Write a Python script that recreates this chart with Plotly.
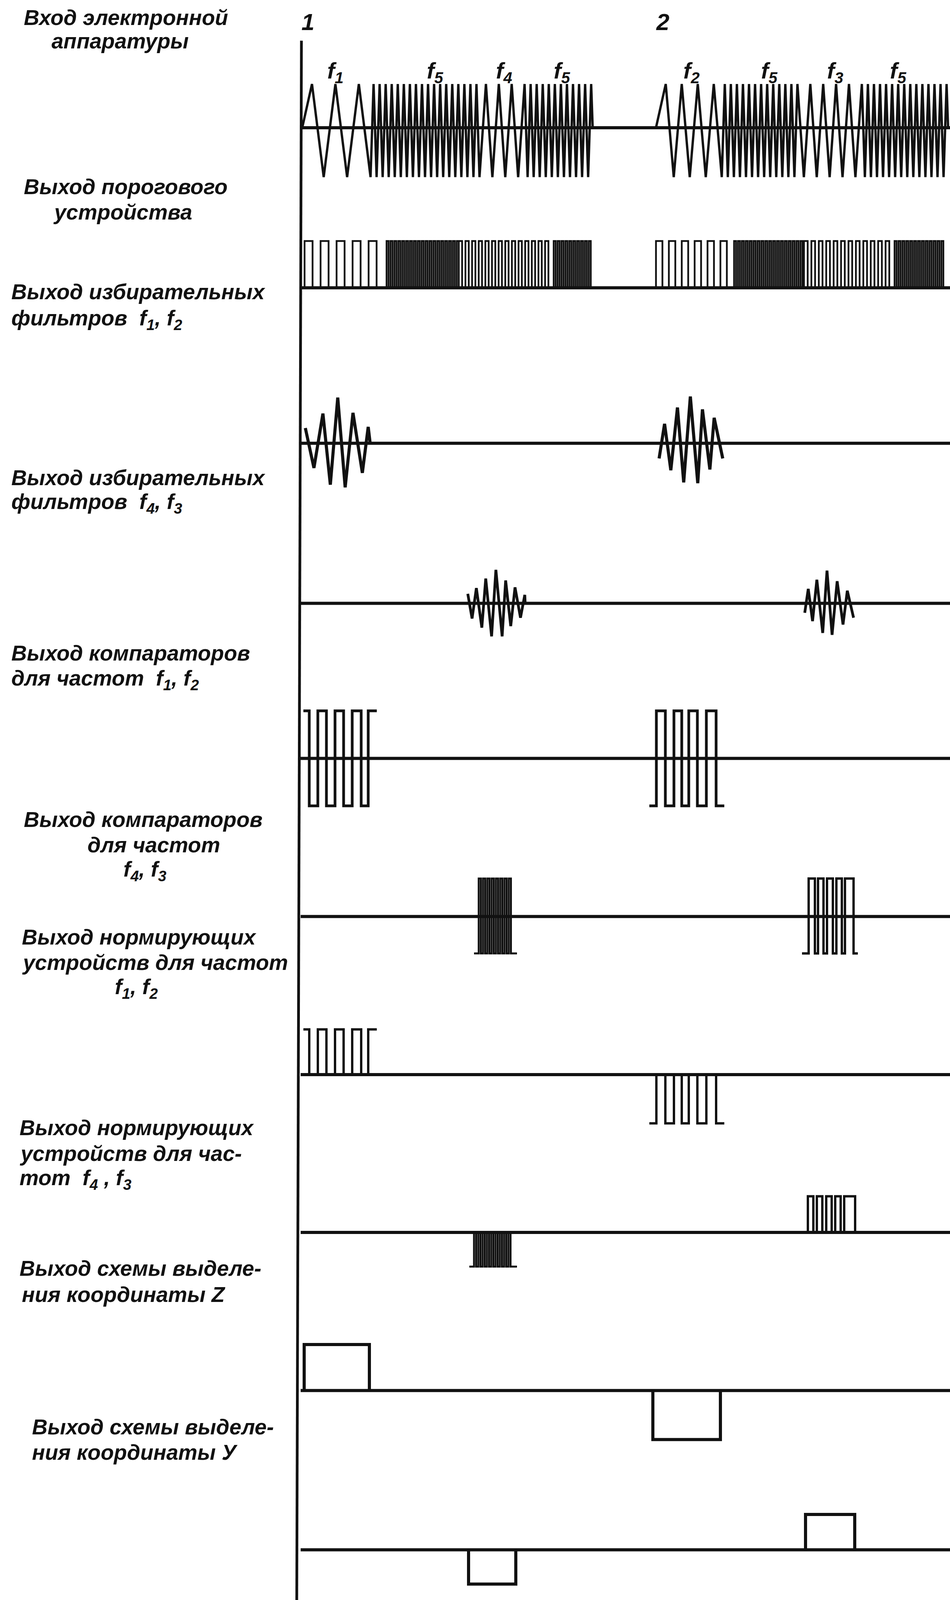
import plotly.graph_objects as go

W, H = 2433, 4209
AXIS_X = 770
AXIS_TOP = 107
LINE_END = 2433
INK = "#111111"

# ---- baselines of the ten traces (vertical position, px from top) ----
baselines = [336, 757, 1166, 1587, 1995, 2411, 2827, 3242, 3658, 4077]

# ---- trace 1: input signal, zig-zag segments (start, end, period) ----
input_burst_1 = [(774, 962, 60), (962, 1228, 15.5), (1228, 1358, 33), (1358, 1520, 15.5)]
input_burst_2 = [(1680, 1862, 41), (1862, 2045, 15.5), (2045, 2212, 33), (2212, 2430, 15.5)]
input_up, input_down = 115, 130

# ---- trace 2: threshold device output, pulse segments (start, end, period) ----
thr_burst_1 = [(780, 990, 41), (990, 1175, 10), (1175, 1418, 17), (1418, 1520, 10)]
thr_burst_2 = [(1680, 1880, 33), (1880, 2059, 10), (2059, 2291, 19), (2291, 2425, 10)]
thr_height = 123

# ---- traces 3,4: selective filter outputs, vertex (x, amplitude) ----
filt12_b1_x = [782, 804, 827, 846, 865, 884, 904, 928, 943, 948]
filt12_b1_a = [40, -65, 78, -109, 120, -116, 80, -78, 43, 0]
filt12_b2_x = [1688, 1702, 1718, 1735, 1751, 1768, 1787, 1799, 1818, 1829, 1851]
filt12_b2_a = [-40, 51, -71, 94, -103, 123, -105, 89, -69, 67, -40]
filt43_b1_x = [1198, 1209, 1220, 1234, 1244, 1259, 1270, 1286, 1295, 1308, 1319, 1333, 1344, 1345]
filt43_b1_a = [25, -40, 40, -64, 65, -87, 88, -87, 60, -60, 42, -38, 22, 0]
filt43_b2_x = [2061, 2070, 2081, 2092, 2107, 2118, 2131, 2144, 2159, 2170, 2186]
filt43_b2_a = [-25, 38, -47, 62, -78, 86, -83, 58, -56, 33, -38]

# ---- traces 5-8: comparator / normaliser outputs, square bursts ----
cmp12_b1_edges = [792, 814, 836, 858, 880, 902, 925, 943]
cmp12_b1 = (777, 965, 1)              # start, end, start level (+1 high / -1 low)
cmp12_b2_edges = [1681, 1704, 1726, 1746, 1764, 1786, 1809, 1834]
cmp12_b2 = (1663, 1855, -1)
cmp12_amp = (125, 125)
cmp43_b1 = (1214, 1226, 1318, 11, 1324, -1)   # start, first edge, last edge, period, end, level
cmp43_b2_edges = [2071, 2087, 2095, 2109, 2118, 2133, 2142, 2156, 2164, 2186]
cmp43_b2 = (2054, 2197, -1)
cmp43_amp = (100, 97)
norm12_b1_amp = (119, 0)
norm12_b2_amp = (0, 128)
norm43_b1 = (1202, 1214, 1314, 11, 1324, -1)
norm43_b1_amp = (0, 90)
norm43_b2_edges = [2069, 2083, 2092, 2106, 2116, 2130, 2139, 2153, 2162, 2190]
norm43_b2 = (2060, 2194, -1)
norm43_b2_amp = (95, 0)

# ---- traces 9,10: coordinate outputs, rectangles (start, end, amplitude) ----
z_rects = [(779, 946, 121), (1672, 1845, -129)]
y_rects = [(1200, 1321, -90), (2063, 2189, 93)]

# ---- text: (text, left x, centre y) ----
label_font = "Liberation Sans"
label_size = 55
labels = [
    ("Вход электронной", 59, 46), ("аппаратуры", 130, 108),
    ("Выход порогового", 59, 491), ("устройства", 134, 558),
    ("Выход избирательных", 27, 768), ("фильтров  f<sub>1</sub>, f<sub>2</sub>", 27, 841),
    ("Выход избирательных", 27, 1257), ("фильтров  f<sub>4</sub>, f<sub>3</sub>", 27, 1324),
    ("Выход компараторов", 27, 1718), ("для частот  f<sub>1</sub>, f<sub>2</sub>", 27, 1788),
    ("Выход компараторов", 59, 2156), ("для частот", 222, 2223), ("f<sub>4</sub>, f<sub>3</sub>", 314, 2290),
    ("Выход нормирующих", 54, 2465), ("устройств для частот", 54, 2532), ("f<sub>1</sub>, f<sub>2</sub>", 292, 2600),
    ("Выход нормирующих", 48, 2967), ("устройств для час-", 48, 3034), ("тот  f<sub>4</sub> , f<sub>3</sub>", 48, 3102),
    ("Выход схемы выделе-", 48, 3337), ("ния координаты Z", 54, 3405),
    ("Выход схемы выделе-", 80, 3754), ("ния координаты У", 80, 3821),
]
marker_labels = [("1", 788, 58), ("2", 1697, 58)]
freq_labels = [("f<sub>1</sub>", 859, 190), ("f<sub>5</sub>", 1114, 190), ("f<sub>4</sub>", 1291, 190),
               ("f<sub>5</sub>", 1439, 190), ("f<sub>2</sub>", 1771, 190), ("f<sub>5</sub>", 1970, 190),
               ("f<sub>3</sub>", 2139, 190), ("f<sub>5</sub>", 2300, 190)]


def zigzag(segments, base, up, down, lead):
    xs = [segments[0][0]]
    ys = [base]
    pos = segments[0][0] + lead - segments[0][2] / 2
    sign = 1
    last_p = segments[0][2]
    for s, e, p in segments:
        while pos + p / 2 <= e:
            pos += p / 2
            xs.append(pos)
            ys.append(base - up if sign > 0 else base + down)
            sign = -sign
        last_p = p
    xs.append(pos + last_p / 4)
    ys.append(base)
    return xs, ys


def pulses(segments, base, h):
    xs, ys = [], []
    for s, e, p in segments:
        t = s
        while t + p / 2 <= e + 0.01:
            xs += [t, t, t + p / 2, t + p / 2]
            ys += [base, base - h, base - h, base]
            t += p
    return xs, ys


def square(edges, start, end, lvl, base, hi, lo):
    def yv(l):
        return base - hi if l > 0 else base + lo
    xs, ys = [start], [yv(lvl)]
    for e in edges:
        xs += [e, e]
        ys += [yv(lvl), yv(-lvl)]
        lvl = -lvl
    xs.append(end)
    ys.append(yv(lvl))
    return xs, ys


def dense_edges(first, last, period):
    out = []
    t = first
    while t <= last + 0.01:
        out.append(t)
        t += period / 2
    if len(out) % 2:
        out.pop()
    return out


fig = go.Figure()


def add(xs, ys, w=6):
    fig.add_trace(go.Scatter(x=xs, y=ys, mode="lines", line=dict(color=INK, width=w),
                             hoverinfo="skip", showlegend=False))


# baselines
for b in baselines:
    add([AXIS_X, LINE_END], [b, b], 8)
# vertical axis
add([AXIS_X + 2, AXIS_X - 10], [AXIS_TOP, H], 7)

# trace 1
for seg in (input_burst_1, input_burst_2):
    add(*zigzag(seg, baselines[0], input_up, input_down, 25), 6)
# trace 2
for seg in (thr_burst_1, thr_burst_2):
    add(*pulses(seg, baselines[1], thr_height), 4.5)
# traces 3, 4
add(filt12_b1_x, [baselines[2] - a for a in filt12_b1_a], 8)
add(filt12_b2_x, [baselines[2] - a for a in filt12_b2_a], 8)
add(filt43_b1_x, [baselines[3] - a for a in filt43_b1_a], 7)
add(filt43_b2_x, [baselines[3] - a for a in filt43_b2_a], 7)
# trace 5
add(*square(cmp12_b1_edges, cmp12_b1[0], cmp12_b1[1], cmp12_b1[2], baselines[4], *cmp12_amp), 7)
add(*square(cmp12_b2_edges, cmp12_b2[0], cmp12_b2[1], cmp12_b2[2], baselines[4], *cmp12_amp), 7)
# trace 6
s, f, l, p, e, lv = cmp43_b1
add(*square(dense_edges(f, l, p), s, e, lv, baselines[5], *cmp43_amp), 5)
add(*square(cmp43_b2_edges, cmp43_b2[0], cmp43_b2[1], cmp43_b2[2], baselines[5], *cmp43_amp), 6)
# trace 7
add(*square(cmp12_b1_edges, cmp12_b1[0], cmp12_b1[1], cmp12_b1[2], baselines[6], *norm12_b1_amp), 6)
add(*square(cmp12_b2_edges, cmp12_b2[0], cmp12_b2[1], cmp12_b2[2], baselines[6], *norm12_b2_amp), 6)
# trace 8
s, f, l, p, e, lv = norm43_b1
add(*square(dense_edges(f, l, p), s, e, lv, baselines[7], *norm43_b1_amp), 5)
add(*square(norm43_b2_edges, norm43_b2[0], norm43_b2[1], norm43_b2[2], baselines[7], *norm43_b2_amp), 6)
# traces 9, 10
for rects, b in ((z_rects, baselines[8]), (y_rects, baselines[9])):
    for x0, x1, a in rects:
        add([x0, x0, x1, x1], [b, b - a, b - a, b], 8)

bold_italic = dict(family=label_font, color=INK, weight="bold", style="italic")
annotations = []
for txt, x, yc in labels:
    annotations.append(dict(x=x, y=yc, xref="x", yref="y", text=txt,
                            showarrow=False, xanchor="left", yanchor="middle",
                            font=dict(size=label_size, **bold_italic)))
for txt, x, yc in marker_labels:
    annotations.append(dict(x=x, y=yc, xref="x", yref="y", text=txt,
                            showarrow=False, xanchor="center", yanchor="middle",
                            font=dict(size=60, **bold_italic)))
for txt, x, yc in freq_labels:
    annotations.append(dict(x=x, y=yc, xref="x", yref="y", text=txt,
                            showarrow=False, xanchor="center", yanchor="middle",
                            font=dict(size=58, **bold_italic)))

fig.update_layout(
    autosize=True,
    margin=dict(l=0, r=0, t=0, b=0),
    paper_bgcolor="white", plot_bgcolor="white",
    xaxis=dict(range=[0, W], visible=False, fixedrange=True),
    yaxis=dict(range=[H, 0], visible=False, fixedrange=True),
    annotations=annotations,
    showlegend=False,
)

fig.write_html(
    "out.html",
    config={"displayModeBar": False, "staticPlot": True},
    default_width="100vw",
    default_height="100vh",
    post_script=(
        "document.body.style.margin='0px';"
        "document.documentElement.style.overflow='hidden';"
        "document.body.style.overflow='hidden';"
        "Plotly.Plots.resize(document.getElementById('{plot_id}'));"
    ),
)
